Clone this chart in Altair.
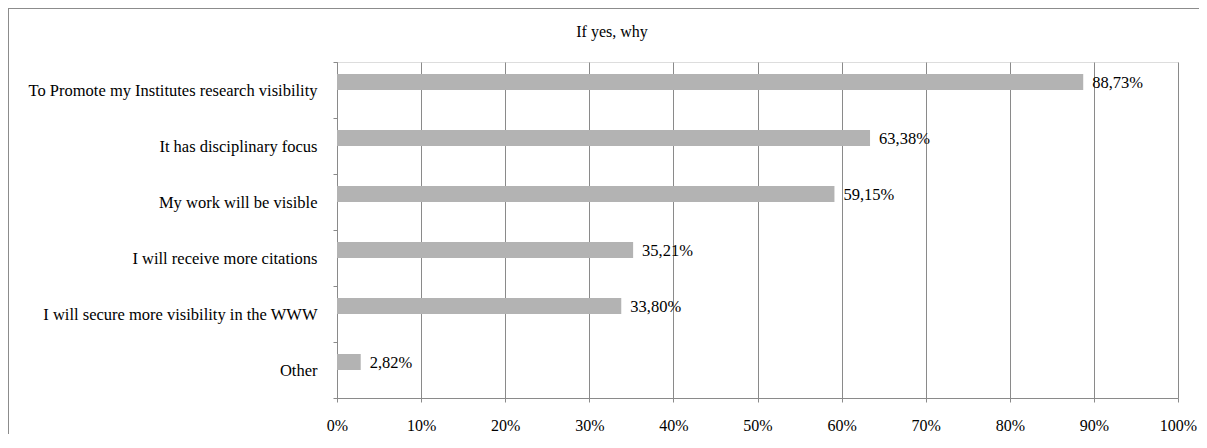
import altair as alt
import pandas as pd

categories = [
    "To Promote my Institutes research visibility",
    "It has disciplinary focus",
    "My work will be visible",
    "I will receive more citations",
    "I will secure more visibility  in the WWW",
    "Other",
]
values = [88.73, 63.38, 59.15, 35.21, 33.80, 2.82]
labels = [f"{v:.2f}".replace(".", ",") + "%" for v in values]
tick_values = [0, 10, 20, 30, 40, 50, 60, 70, 80, 90, 100]
title_text = "If yes, why"

df = pd.DataFrame({"cat": categories, "val": values, "lab": labels, "s": ["a"] * len(values)})

FONT = "Liberation Serif"
GRAY = "#8a8a8a"
FRAME = "#8c8c8c"

y_enc = alt.Y(
    "cat:N",
    sort=categories,
    title=None,
    scale=alt.Scale(paddingInner=0, paddingOuter=0),
    axis=alt.Axis(
        tickBand="extent",
        tickSize=4,
        labelPadding=16,
        labelFontSize=16.5,
        labelFont=FONT,
        labelColor="#000000",
        domainColor=GRAY,
        tickColor=GRAY,
        grid=False,
        labelLimit=400,
    ),
)
x_enc = alt.X(
    "val:Q",
    title=None,
    scale=alt.Scale(domain=[0, 100], nice=False),
    axis=alt.Axis(
        values=tick_values,
        labelExpr="datum.value + '%'",
        labelFlush=False,
        tickSize=4,
        labelPadding=15,
        labelFontSize=16,
        labelFont=FONT,
        labelColor="#000000",
        domainColor=GRAY,
        tickColor=GRAY,
        gridColor=GRAY,
        gridOpacity=1,
        grid=True,
    ),
)

base = alt.Chart(df)

bars = base.mark_bar(color="#b3b3b3").encode(
    x=x_enc,
    y=y_enc,
    yOffset=alt.YOffset("s:N", scale=alt.Scale(domain=["a", "b"], paddingInner=0, paddingOuter=0.75)),
)

texts = base.mark_text(
    align="left", baseline="middle", dx=9, dy=-7, fontSize=16.5, font=FONT, color="#000000"
).encode(
    x=alt.X("val:Q"),
    y=alt.Y("cat:N", sort=categories),
    text="lab:N",
)

one = alt.Data(values=[{"k": 1}])
title_mark = alt.Chart(alt.Data(values=[{"t": title_text}])).mark_text(
    align="center", baseline="alphabetic", fontSize=16, font=FONT, color="#000000"
).encode(
    x=alt.value(275), y=alt.value(-25), text="t:N"
)
top_line = alt.Chart(one).mark_rule(color=FRAME, strokeWidth=1).encode(
    x=alt.value(-330), x2=alt.value(880), y=alt.value(-53.5)
)
left_line = alt.Chart(one).mark_rule(color=FRAME, strokeWidth=1).encode(
    x=alt.value(-328.5), y=alt.value(-54), y2=alt.value(390)
)

chart = (
    alt.layer(top_line, left_line, title_mark, bars, texts)
    .properties(
        width=841,
        height=336,
        autosize=alt.AutoSizeParams(type="none"),
        padding={"left": 329, "top": 54, "right": 21, "bottom": 36},
    )
    .configure_view(stroke=None)
    .configure(font=FONT)
)

chart.save("out.html", embed_options={"renderer": "svg", "actions": False})
